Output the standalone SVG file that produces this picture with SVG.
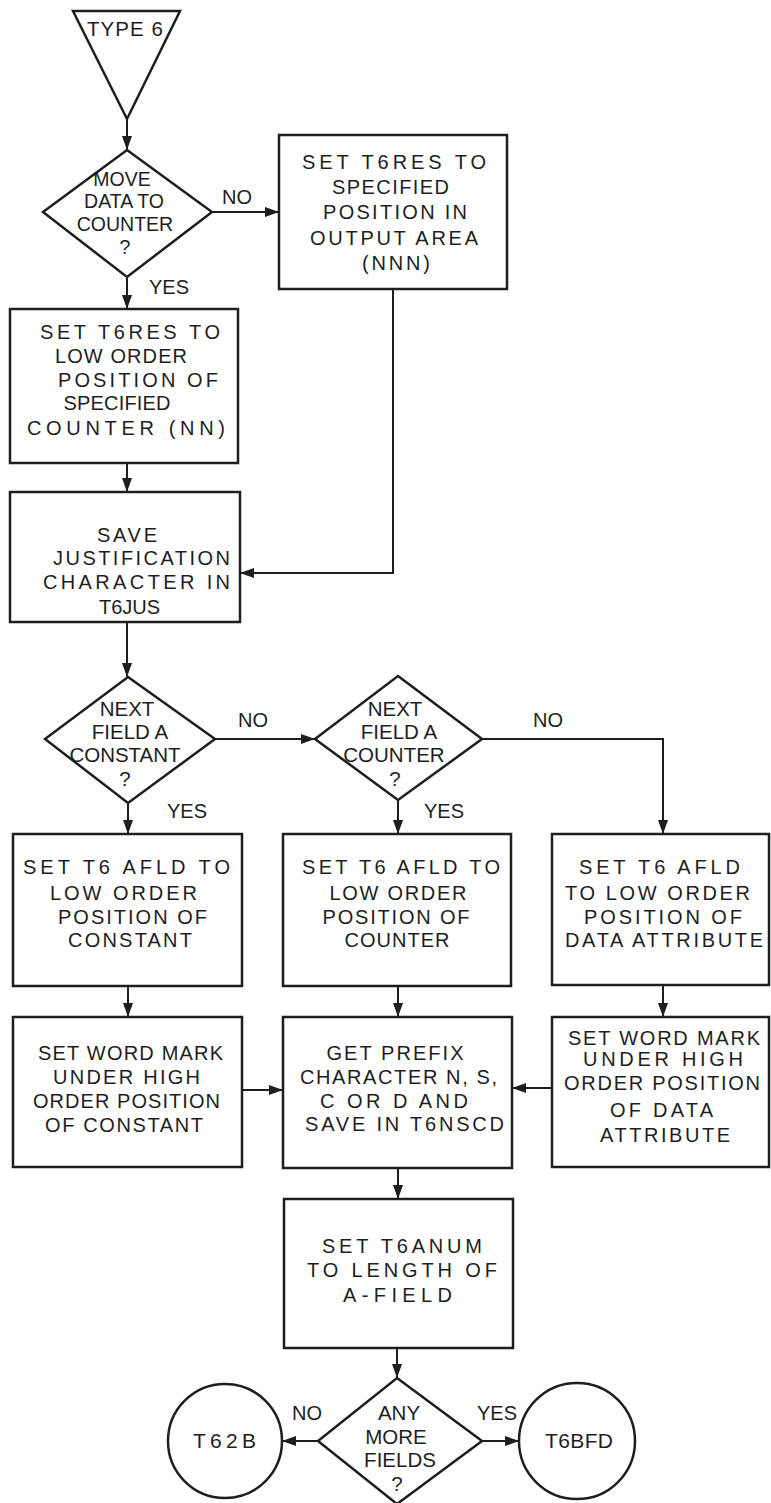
<svg xmlns="http://www.w3.org/2000/svg" width="771" height="1503" viewBox="0 0 771 1503">
<style>
.shape{fill:none;stroke:#1e1e1e;stroke-width:2.5;stroke-linejoin:miter}
.conn{fill:none;stroke:#1e1e1e;stroke-width:2}
text{font-family:"Liberation Sans",Arial,sans-serif;fill:#1e1e1e;text-anchor:middle}
.bt{font-size:20px}
.dt{font-size:20.5px}
.dm{font-size:19.5px}
.lb{font-size:20px}
.ct{font-size:21px}
</style>
<defs>
<marker id="ah" markerUnits="userSpaceOnUse" markerWidth="14" markerHeight="10" refX="14" refY="5" orient="auto">
<path d="M0,0 L14,5 L0,10 z" fill="#1e1e1e"/>
</marker>
</defs>
<rect width="771" height="1503" fill="#ffffff"/>

<g id="start">
<polygon class="shape" points="73,11 180,11 127,119"/>
<text class="dt" x="125" y="36" textLength="76" lengthAdjust="spacing">TYPE 6</text>
</g>

<g id="d_move">
<polygon class="shape" points="127,150 212,212 127,277 43,212"/>
<text class="dm" x="122" y="186">MOVE</text>
<text class="dm" x="124" y="208">DATA TO</text>
<text class="dm" x="125" y="231">COUNTER</text>
<text class="dm" x="125" y="254">?</text>
</g>

<g id="b_out">
<rect class="shape" x="279" y="135" width="228" height="154"/>
<text class="bt" x="394" y="169" textLength="184" lengthAdjust="spacing">SET T6RES TO</text>
<text class="bt" x="390.5" y="194" textLength="117" lengthAdjust="spacing">SPECIFIED</text>
<text class="bt" x="395" y="219" textLength="144" lengthAdjust="spacing">POSITION IN</text>
<text class="bt" x="394" y="245" textLength="168" lengthAdjust="spacing">OUTPUT AREA</text>
<text class="bt" x="396" y="270" textLength="68" lengthAdjust="spacing">(NNN)</text>
</g>

<g id="b_counter">
<rect class="shape" x="10" y="309" width="228" height="154"/>
<text class="bt" x="130" y="339" textLength="180" lengthAdjust="spacing">SET T6RES TO</text>
<text class="bt" x="121" y="363" textLength="132" lengthAdjust="spacing">LOW ORDER</text>
<text class="bt" x="138" y="387" textLength="160" lengthAdjust="spacing">POSITION OF</text>
<text class="bt" x="117" y="410" textLength="107" lengthAdjust="spacing">SPECIFIED</text>
<text class="bt" x="126" y="435" textLength="198" lengthAdjust="spacing">COUNTER (NN)</text>
</g>

<g id="b_save">
<rect class="shape" x="10" y="492" width="230" height="130"/>
<text class="bt" x="127" y="542" textLength="60" lengthAdjust="spacing">SAVE</text>
<text class="bt" x="141.5" y="565" textLength="177" lengthAdjust="spacing">JUSTIFICATION</text>
<text class="bt" x="136.5" y="589" textLength="187" lengthAdjust="spacing">CHARACTER IN</text>
<text class="bt" x="129.5" y="614">T6JUS</text>
</g>

<g id="d_const">
<polygon class="shape" points="128,677 215,739 128,803 45,739"/>
<text class="dt" x="127" y="716">NEXT</text>
<text class="dt" x="130" y="739">FIELD A</text>
<text class="dt" x="125" y="762">CONSTANT</text>
<text class="dt" x="125" y="786">?</text>
</g>

<g id="d_ctr">
<polygon class="shape" points="398,676 482,739 398,800 315,739"/>
<text class="dt" x="395" y="716">NEXT</text>
<text class="dt" x="399" y="739">FIELD A</text>
<text class="dt" x="394" y="762">COUNTER</text>
<text class="dt" x="395" y="786">?</text>
</g>

<g id="b_afld_const">
<rect class="shape" x="13" y="834" width="229" height="152"/>
<text class="bt" x="126.5" y="874" textLength="207" lengthAdjust="spacing">SET T6 AFLD TO</text>
<text class="bt" x="123.5" y="900" textLength="147" lengthAdjust="spacing">LOW ORDER</text>
<text class="bt" x="132.5" y="924" textLength="149" lengthAdjust="spacing">POSITION OF</text>
<text class="bt" x="130" y="947" textLength="124" lengthAdjust="spacing">CONSTANT</text>
</g>

<g id="b_afld_ctr">
<rect class="shape" x="283" y="834" width="228" height="152"/>
<text class="bt" x="401" y="874" textLength="198" lengthAdjust="spacing">SET T6 AFLD TO</text>
<text class="bt" x="398" y="900" textLength="137" lengthAdjust="spacing">LOW ORDER</text>
<text class="bt" x="396" y="924" textLength="147" lengthAdjust="spacing">POSITION OF</text>
<text class="bt" x="397" y="947" textLength="105" lengthAdjust="spacing">COUNTER</text>
</g>

<g id="b_afld_data">
<rect class="shape" x="552" y="834" width="217" height="151"/>
<text class="bt" x="659.5" y="874" textLength="161" lengthAdjust="spacing">SET T6 AFLD</text>
<text class="bt" x="657.5" y="900" textLength="185" lengthAdjust="spacing">TO LOW ORDER</text>
<text class="bt" x="663" y="924" textLength="158" lengthAdjust="spacing">POSITION OF</text>
<text class="bt" x="664" y="947" textLength="198" lengthAdjust="spacing">DATA ATTRIBUTE</text>
</g>

<g id="b_wm_const">
<rect class="shape" x="13" y="1017" width="229" height="150"/>
<text class="bt" x="130.5" y="1060" textLength="185" lengthAdjust="spacing">SET WORD MARK</text>
<text class="bt" x="126.5" y="1084" textLength="147" lengthAdjust="spacing">UNDER HIGH</text>
<text class="bt" x="126.5" y="1108" textLength="187" lengthAdjust="spacing">ORDER POSITION</text>
<text class="bt" x="124" y="1132" textLength="158" lengthAdjust="spacing">OF CONSTANT</text>
</g>

<g id="b_prefix">
<rect class="shape" x="283" y="1017" width="229" height="151"/>
<text class="bt" x="395" y="1060" textLength="137" lengthAdjust="spacing">GET PREFIX</text>
<text class="bt" x="398.5" y="1084" textLength="197" lengthAdjust="spacing">CHARACTER N, S,</text>
<text class="bt" x="394" y="1108" textLength="148" lengthAdjust="spacing">C OR D AND</text>
<text class="bt" x="404.5" y="1131" textLength="199" lengthAdjust="spacing">SAVE IN T6NSCD</text>
</g>

<g id="b_wm_data">
<rect class="shape" x="552" y="1017" width="217" height="150"/>
<text class="bt" x="664" y="1045" textLength="192" lengthAdjust="spacing">SET WORD MARK</text>
<text class="bt" x="663" y="1066" textLength="160" lengthAdjust="spacing">UNDER HIGH</text>
<text class="bt" x="662" y="1090" textLength="196" lengthAdjust="spacing">ORDER POSITION</text>
<text class="bt" x="661.5" y="1117" textLength="103" lengthAdjust="spacing">OF DATA</text>
<text class="bt" x="665" y="1142" textLength="130" lengthAdjust="spacing">ATTRIBUTE</text>
</g>

<g id="b_anum">
<rect class="shape" x="284" y="1199" width="229" height="149"/>
<text class="bt" x="402" y="1253" textLength="160" lengthAdjust="spacing">SET T6ANUM</text>
<text class="bt" x="402" y="1277" textLength="190" lengthAdjust="spacing">TO LENGTH OF</text>
<text class="bt" x="397.5" y="1302" textLength="109" lengthAdjust="spacing">A-FIELD</text>
</g>

<g id="d_more">
<polygon class="shape" points="397,1378 482,1441 397,1504 318,1441"/>
<text class="dt" x="399" y="1420">ANY</text>
<text class="dt" x="396" y="1444">MORE</text>
<text class="dt" x="400" y="1467">FIELDS</text>
<text class="dt" x="397" y="1491">?</text>
</g>

<g id="c_t62b">
<circle class="shape" cx="225" cy="1441" r="57"/>
<text class="ct" x="224.5" y="1448" textLength="63" lengthAdjust="spacing">T62B</text>
</g>

<g id="c_t6bfd">
<circle class="shape" cx="577" cy="1441" r="58"/>
<text class="ct" x="579" y="1448" textLength="68" lengthAdjust="spacing">T6BFD</text>
</g>

<g id="connectors">
<path class="conn" d="M127,119 V150" marker-end="url(#ah)"/>
<path class="conn" d="M212,212 H279" marker-end="url(#ah)"/>
<path class="conn" d="M127,277 V309" marker-end="url(#ah)"/>
<path class="conn" d="M127,463 V492" marker-end="url(#ah)"/>
<path class="conn" d="M393,289 V573 H240" marker-end="url(#ah)"/>
<path class="conn" d="M127,622 V677" marker-end="url(#ah)"/>
<path class="conn" d="M215,739 H315" marker-end="url(#ah)"/>
<path class="conn" d="M128,803 V834" marker-end="url(#ah)"/>
<path class="conn" d="M398,800 V834" marker-end="url(#ah)"/>
<path class="conn" d="M482,739 H663 V834" marker-end="url(#ah)"/>
<path class="conn" d="M128,986 V1017" marker-end="url(#ah)"/>
<path class="conn" d="M398,986 V1017" marker-end="url(#ah)"/>
<path class="conn" d="M663,985 V1017" marker-end="url(#ah)"/>
<path class="conn" d="M242,1090 H283" marker-end="url(#ah)"/>
<path class="conn" d="M552,1088 H512" marker-end="url(#ah)"/>
<path class="conn" d="M398,1168 V1199" marker-end="url(#ah)"/>
<path class="conn" d="M397,1348 V1378" marker-end="url(#ah)"/>
<path class="conn" d="M318,1441 H282" marker-end="url(#ah)"/>
<path class="conn" d="M482,1441 H519" marker-end="url(#ah)"/>
<text class="lb" x="237" y="204">NO</text>
<text class="lb" x="169" y="294">YES</text>
<text class="lb" x="253" y="727">NO</text>
<text class="lb" x="187" y="818">YES</text>
<text class="lb" x="444" y="818">YES</text>
<text class="lb" x="548" y="727">NO</text>
<text class="lb" x="307" y="1420">NO</text>
<text class="lb" x="497" y="1420">YES</text>
</g>
</svg>
